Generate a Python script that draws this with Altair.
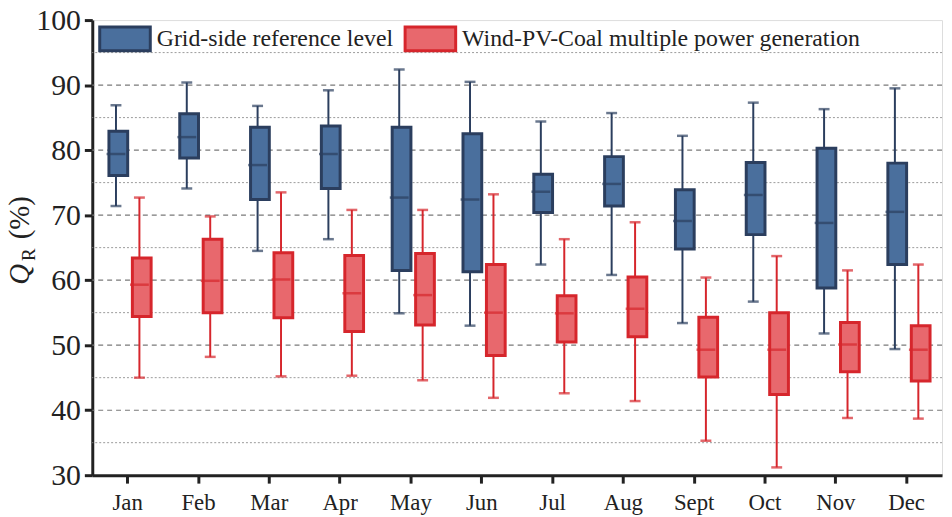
import altair as alt
import pandas as pd

months = ["Jan", "Feb", "Mar", "Apr", "May", "Jun", "Jul", "Aug", "Sept", "Oct", "Nov", "Dec"]
series = ["Grid-side reference level", "Wind-PV-Coal multiple power generation"]

# Grid-side reference level
grid_lo  = [71.4, 74.1, 64.5, 66.3, 54.9, 53.0, 62.4, 60.8, 53.4, 56.7, 51.8, 49.4]
grid_q1  = [76.1, 78.8, 72.4, 74.1, 61.5, 61.3, 70.4, 71.4, 64.8, 67.0, 58.8, 62.4]
grid_med = [79.4, 82.0, 77.7, 79.4, 72.7, 72.4, 73.6, 74.8, 69.1, 73.1, 68.8, 70.5]
grid_q3  = [82.9, 85.6, 83.5, 83.7, 83.5, 82.5, 76.3, 79.0, 73.9, 78.1, 80.3, 78.0]
grid_hi  = [86.9, 90.4, 86.8, 89.2, 92.4, 90.5, 84.4, 85.7, 82.2, 87.3, 86.3, 89.5]

# Wind-PV-Coal multiple power generation
wpc_lo  = [45.0, 48.2, 45.2, 45.3, 44.6, 41.9, 42.6, 41.4, 35.3, 31.2, 38.8, 38.7]
wpc_q1  = [54.4, 55.0, 54.2, 52.1, 53.1, 48.4, 50.5, 51.3, 45.1, 42.4, 45.9, 44.5]
wpc_med = [59.3, 59.9, 60.1, 58.0, 57.7, 55.0, 54.9, 55.6, 49.3, 49.3, 50.1, 49.3]
wpc_q3  = [63.4, 66.3, 64.2, 63.8, 64.1, 62.4, 57.6, 60.5, 54.3, 55.0, 53.5, 53.0]
wpc_hi  = [72.7, 69.8, 73.5, 70.8, 70.8, 73.2, 66.3, 68.9, 60.4, 63.7, 61.5, 62.4]

major_grid = [40, 50, 60, 70, 80, 90]
minor_grid = [35, 45, 55, 65, 75, 85, 95]
y_ticks = [30, 40, 50, 60, 70, 80, 90, 100]

fills = ["#4a6f9d", "#e8686d"]
strokes = ["#2b3e5e", "#d6262c"]

rows = []
for i, m in enumerate(months):
    rows.append(dict(month=m, series=series[0], lo=grid_lo[i], q1=grid_q1[i],
                     med=grid_med[i], q3=grid_q3[i], hi=grid_hi[i]))
    rows.append(dict(month=m, series=series[1], lo=wpc_lo[i], q1=wpc_q1[i],
                     med=wpc_med[i], q3=wpc_q3[i], hi=wpc_hi[i]))
df = pd.DataFrame(rows)

FONT = "Liberation Serif"

xenc = alt.X("month:N", sort=months,
             scale=alt.Scale(paddingInner=0.338, paddingOuter=0.169),
             axis=alt.Axis(title=None, labelAngle=0, labelFontSize=23, labelFont=FONT,
                           labelColor="#222", tickSize=8, tickWidth=3, tickColor="#222",
                           domainWidth=3, domainColor="#222", labelPadding=9, grid=False))
xoff = alt.XOffset("series:N", sort=series, scale=alt.Scale(domain=series, paddingInner=0, paddingOuter=0))
yscale = alt.Scale(domain=[30, 100], nice=False, zero=False)
yaxis = alt.Axis(title=None, values=y_ticks, labelFontSize=30, labelFont=FONT,
                 labelColor="#222", tickSize=8, tickWidth=3, tickColor="#222",
                 domainWidth=3, domainColor="#222", labelPadding=4, grid=False)

leg = alt.Legend(title=None, orient="none", legendX=6, legendY=-8, direction="horizontal",
                 symbolType="M-1,-0.47H1V0.47H-1Z", symbolSize=2601, symbolStrokeWidth=3,
                 symbolOpacity=1, labelFontSize=24, labelFont=FONT, labelColor="#222",
                 columnPadding=5, labelOffset=5, padding=0, labelLimit=600)

base = alt.Chart(df)

grid_major = alt.Chart(pd.DataFrame({"v": major_grid})).mark_rule(
    color="#7a7a7a", strokeWidth=1.1, strokeDash=[5, 4]).encode(
    y=alt.Y("v:Q", scale=yscale, axis=yaxis))
grid_minor = alt.Chart(pd.DataFrame({"v": minor_grid})).mark_rule(
    color="#9a9a9a", strokeWidth=1, strokeDash=[2, 2]).encode(
    y=alt.Y("v:Q", scale=yscale))

layers = [grid_major, grid_minor]

# whiskers and caps, one layer per series with its fixed colour
for s, c in zip(series, strokes):
    sub = base.transform_filter(alt.datum.series == s)
    layers.append(sub.mark_rule(strokeWidth=2, color=c).encode(
        x=xenc, xOffset=xoff, y=alt.Y("lo:Q", scale=yscale), y2="hi:Q"))
    layers.append(sub.mark_tick(size=11, thickness=2.5, color=c).encode(
        x=xenc, xOffset=xoff, y=alt.Y("lo:Q", scale=yscale)))
    layers.append(sub.mark_tick(size=11, thickness=2.5, color=c).encode(
        x=xenc, xOffset=xoff, y=alt.Y("hi:Q", scale=yscale)))

box = base.mark_bar(width=alt.RelativeBandSize(0.8), strokeWidth=3, opacity=1).encode(
    x=xenc, xOffset=xoff,
    y=alt.Y("q1:Q", scale=yscale), y2="q3:Q",
    fill=alt.Fill("series:N", sort=series, scale=alt.Scale(domain=series, range=fills), legend=leg),
    stroke=alt.Stroke("series:N", sort=series, scale=alt.Scale(domain=series, range=strokes), legend=leg))
layers.append(box)

for s, c in zip(series, strokes):
    sub = base.transform_filter(alt.datum.series == s)
    layers.append(sub.mark_tick(size=19, thickness=2.5, color=c).encode(
        x=xenc, xOffset=xoff, y=alt.Y("med:Q", scale=yscale)))

title_q = alt.Chart(pd.DataFrame({"t": ["Q"]})).mark_text(
    angle=270, align="left", baseline="alphabetic", font=FONT, fontSize=29,
    fontStyle="italic", color="#222").encode(text="t:N", x=alt.value(-64), y=alt.value(267))
title_r = alt.Chart(pd.DataFrame({"t": ["R"]})).mark_text(
    angle=270, align="left", baseline="alphabetic", font=FONT, fontSize=19,
    color="#222").encode(text="t:N", x=alt.value(-58), y=alt.value(243))
title_p = alt.Chart(pd.DataFrame({"t": ["(%)"]})).mark_text(
    angle=270, align="left", baseline="alphabetic", font=FONT, fontSize=29,
    color="#222").encode(text="t:N", x=alt.value(-64), y=alt.value(221))
layers += [title_q, title_r, title_p]

chart = alt.layer(*layers).properties(
    width=857, height=459,
    autosize=alt.AutoSizeParams(type="none"),
    padding={"left": 85, "top": 10, "right": 2, "bottom": 42},
).configure_view(stroke="#222", strokeWidth=2.5).configure(background="white")

chart.save("out.html", embed_options={"renderer": "svg", "actions": False})
